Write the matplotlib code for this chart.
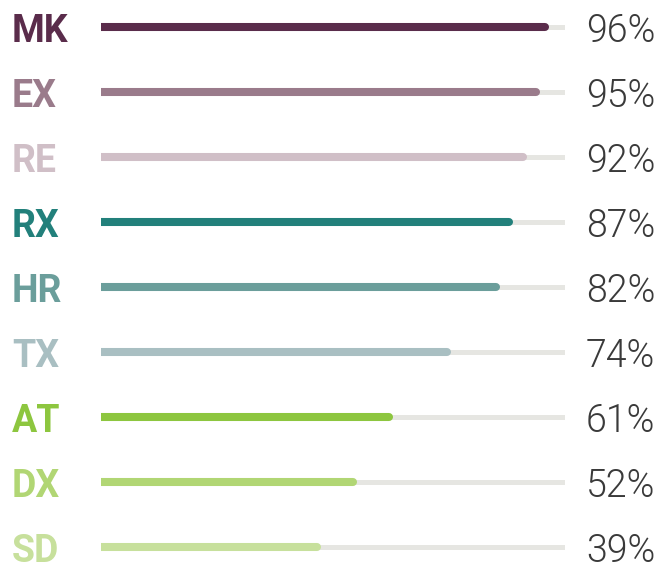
import matplotlib.pyplot as plt
from matplotlib.transforms import blended_transform_factory

# Data
categories = ["MK", "EX", "RE", "RX", "HR", "TX", "AT", "DX", "SD"]
percent = [96, 95, 92, 87, 82, 74, 61, 52, 39]
# bar fill lengths as drawn (0-100 of the track)
fill = [95.8, 93.9, 91.1, 88.0, 85.2, 74.7, 62.2, 54.4, 46.7]
colors = ["#5a2c4b", "#9a7b8b", "#d0bfc7", "#22807b", "#6b9e9b",
          "#a9bfc2", "#8dc63f", "#b1d674", "#c7e09c"]
track_color = "#e6e6e2"

W, H = 659, 562
fig = plt.figure(figsize=(W / 100, H / 100), dpi=100)
ax = fig.add_axes([100.5 / W, 0, 464 / W, 1])
ax.set_xlim(0, 100)
ax.set_ylim((H - 27) / 65, -27 / 65)
ax.axis("off")

trans = blended_transform_factory(fig.transFigure, ax.transData)

for i, cat in enumerate(categories):
    ax.plot([0, 100], [i, i], color=track_color, lw=3.6,
            solid_capstyle="round", zorder=1)
    ax.plot([0, fill[i]], [i, i], color=colors[i], lw=5.8,
            solid_capstyle="round", zorder=2)
    ax.text(12 / W, i + 0.23, cat, transform=trans, ha="left", va="baseline",
            fontsize=27, fontweight=700, family="Roboto", color=colors[i])
    # Roboto Light is weight 300 ('light' in matplotlib means 200)
    ax.text(655 / W, i + 0.23, f"{percent[i]}%", transform=trans, ha="right",
            va="baseline", fontsize=27, fontweight=300, family="Roboto",
            color="#3a3a3a")

fig.savefig("out.png", dpi=100)
